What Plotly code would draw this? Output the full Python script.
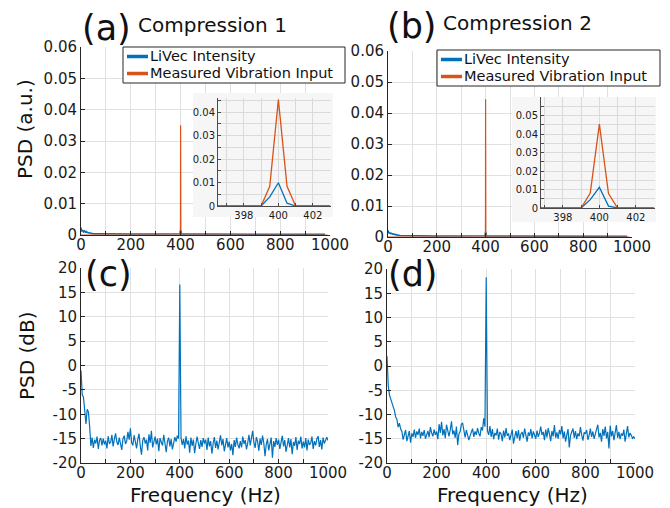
import plotly.graph_objects as go

BLUE = '#0072BD'
ORANGE = '#D95319'
AX = '#262626'
GRID = '#e0e0e0'
FONT = 'DejaVu Sans'

# ---------------- data ----------------
# (a)/(b) linear PSD, main axes
lin_freq_a = [0, 2, 4, 6, 8, 10, 14, 18, 22, 26, 30, 40, 50, 80, 120, 200, 300, 396, 398, 400, 402, 404, 500, 600, 700, 800, 900, 980]
lin_livec_a = [0.0024, 0.0011, 0.0017, 0.0012, 0.0015, 0.0010, 0.0013, 0.0009, 0.0011, 0.0008, 0.0007, 0.0005, 0.0004, 0.0004,
               0.0003, 0.0003, 0.0003, 0.0003, 0.0004, 0.0016, 0.0004, 0.0003, 0.0003, 0.0003, 0.0002, 0.0002, 0.0002, 0.0002]
lin_freq_b = [0, 2, 4, 6, 8, 10, 14, 18, 22, 26, 30, 40, 50, 80, 120, 200, 300, 396, 398, 400, 402, 404, 500, 600, 700, 800, 900, 980]
lin_livec_b = [0.0022, 0.0012, 0.0016, 0.0011, 0.0014, 0.0011, 0.0012, 0.0010, 0.0009, 0.0008, 0.0007, 0.0006, 0.0005, 0.0004,
               0.0004, 0.0003, 0.0003, 0.0003, 0.0004, 0.0017, 0.0004, 0.0003, 0.0003, 0.0003, 0.0003, 0.0002, 0.0002, 0.0002]
vib_freq = [0, 399, 399.5, 400, 400.5, 401, 990]
vib_input_a = [0, 0, 0.006, 0.035, 0.006, 0, 0]
vib_input_b = [0, 0, 0.007, 0.0444, 0.007, 0, 0]

# insets (zoom around 400 Hz)
inset_freq = [396.5, 397, 397.5, 398, 398.5, 399, 399.5, 400, 400.5, 401, 401.5, 402, 402.5, 403]
inset_livec_a = [0, 0, 0, 0, 0, 0, 0.0039, 0.0099, 0.0012, 0, 0, 0, 0, 0]
inset_vib_a = [0, 0, 0, 0, 0, 0, 0.0084, 0.0453, 0.0084, 0, 0, 0, 0, 0]
inset_livec_b = [0, 0, 0, 0, 0, 0, 0.0045, 0.0112, 0.0010, 0, 0, 0, 0, 0]
inset_vib_b = [0, 0, 0, 0, 0, 0, 0.0081, 0.0453, 0.0078, 0, 0, 0, 0, 0]

# (c)/(d) PSD in dB
freq_db = list(range(0, 1001, 5))
psd_db_c = [
    -1.0, -6.0, -6.5, -9.0, -12.0, -9.0, -9.5, -12.5, -16.5, -14.8, -16.9, -15.2, -16.0, -14.6, -17.1, -15.3, -14.9, -16.4, -15.0, -16.2,
    -15.4, -17.0, -14.5, -16.0, -15.8, -14.2, -16.6, -15.1, -13.9, -15.7, -16.3, -14.8, -15.9, -17.3, -15.0, -14.4, -16.1, -15.5, -13.6, -15.2,
    -12.9, -15.8, -16.4, -14.3, -15.6, -17.0, -15.1, -14.0, -16.5, -18.3, -15.4, -14.7, -16.0, -15.2, -17.4, -14.1, -15.9, -13.4, -16.8, -15.3,
    -14.6, -16.2, -15.0, -17.6, -14.9, -15.7, -16.4, -14.2, -16.1, -17.8, -15.5, -14.8, -16.6, -15.1, -17.2, -16.0, -14.7, -15.6, -14.4, -15.0,
    16.6, -14.9, -16.3, -15.1, -17.0, -14.5, -16.2, -15.4, -17.9, -14.8, -16.5, -15.2, -18.0, -16.1, -14.6, -15.9, -17.1, -15.3, -16.7, -14.9,
    -16.0, -15.2, -17.3, -14.8, -16.6, -15.5, -18.1, -16.0, -14.7, -16.9, -15.4, -17.2, -15.8, -14.3, -16.4, -15.1, -17.6, -16.2, -14.9, -16.8,
    -15.6, -17.4, -16.1, -18.4, -15.3, -16.7, -14.8, -16.2, -17.0, -15.5, -16.8, -14.6, -16.1, -15.3, -17.2, -15.9, -14.2, -16.4, -15.1, -13.4,
    -15.8, -16.9, -14.7, -15.6, -17.5, -15.0, -16.3, -14.4, -15.9, -18.6, -16.2, -15.1, -17.4, -16.0, -14.8, -18.9, -15.5, -16.7, -14.9, -16.3,
    -15.2, -17.1, -15.8, -14.4, -16.6, -15.3, -17.7, -16.0, -14.9, -16.8, -15.1, -18.2, -15.7, -16.5, -14.7, -17.3, -15.4, -16.1, -14.6, -17.0,
    -15.6, -16.8, -14.9, -17.4, -15.2, -16.3, -15.9, -14.6, -17.1, -15.5, -16.4, -15.0, -14.5, -16.7, -15.3, -17.2, -14.8, -16.0, -15.1, -14.7,
    -15.4,
]
psd_db_d = [
    2.0, -4.0, -6.0, -6.8, -7.5, -8.8, -9.2, -10.5, -11.0, -12.6, -11.8, -13.0, -13.5, -15.2, -14.0, -13.2, -15.5, -14.1, -13.4, -15.8,
    -13.9, -14.6, -13.1, -14.8, -13.5, -14.2, -12.9, -14.9, -13.6, -14.4, -13.2, -15.0, -14.1, -13.4, -14.7, -12.6, -13.8, -14.5, -13.1, -14.2,
    -13.5, -15.1, -12.0, -13.8, -11.5, -14.3, -13.0, -14.9, -12.1, -13.7, -14.5, -13.2, -11.4, -14.1, -13.3, -14.8, -12.5, -16.3, -14.0, -13.5,
    -12.0, -11.8, -13.6, -14.7, -13.2, -14.1, -15.3, -14.4, -13.8, -12.9, -14.6, -13.5, -14.2, -12.8, -13.9, -14.5, -12.6, -13.3, -10.8, -12.5,
    18.3, -13.4, -14.2, -12.4, -14.6, -13.0, -15.1, -13.8, -14.3, -12.9, -15.2, -13.6, -14.0, -15.5, -13.3, -14.7, -12.8, -14.4, -13.9, -15.3,
    -14.2, -13.1, -16.0, -14.5, -13.4, -14.9, -13.2, -15.4, -14.0, -13.6, -14.8, -12.9, -14.3, -15.6, -13.7, -14.4, -13.0, -14.9, -13.5, -14.1,
    -15.0, -13.3, -14.6, -13.8, -12.5, -14.2, -13.6, -15.3, -13.1, -14.7, -12.8, -14.0, -15.5, -13.4, -14.5, -12.2, -14.8, -13.7, -15.0, -13.2,
    -14.1, -12.4, -14.9, -13.5, -15.6, -14.2, -13.0, -16.8, -14.3, -13.6, -12.9, -14.8, -13.4, -15.1, -13.9, -14.5, -12.6, -14.2, -15.4, -13.7,
    -14.0, -13.2, -15.2, -14.3, -12.9, -14.6, -13.5, -15.0, -14.1, -13.3, -12.1, -14.7, -13.8, -15.6, -13.0, -14.4, -12.5, -14.9, -13.6, -17.0,
    -12.3, -14.5, -13.4, -15.3, -14.0, -12.2, -14.8, -13.6, -15.1, -13.9, -14.4, -13.1, -15.6, -14.2, -12.4, -14.7, -13.8, -14.3, -14.9, -14.6,
    -15.0,
]

# tick labels
freq_ticks = [0, 100, 200, 300, 400, 500, 600, 700, 800, 900, 1000]
freq_ticktext = ['0', '', '200', '', '400', '', '600', '', '800', '', '1000']
lin_ticks = [0, 0.01, 0.02, 0.03, 0.04, 0.05, 0.06]
lin_ticktext = ['0', '0.01', '0.02', '0.03', '0.04', '0.05', '0.06']
db_ticks = [-20, -15, -10, -5, 0, 5, 10, 15, 20]
db_ticktext = ['-20', '-15', '-10', '-5', '0', '5', '10', '15', '20']
inset_xticks = [397, 398, 399, 400, 401, 402, 403]
inset_xticktext = ['', '398', '', '400', '', '402', '']
inset_yticks = [0, 0.005, 0.01, 0.015, 0.02, 0.025, 0.03, 0.035, 0.04, 0.045, 0.05, 0.055]
inset_yticktext_a = ['0', '', '0.01', '', '0.02', '', '0.03', '', '0.04', '', '', '']
inset_yticktext_b = ['0', '', '0.01', '', '0.02', '', '0.03', '', '0.04', '', '0.05', '']

series_names = ['LiVec Intensity', 'Measured Vibration Input']
series_colors = [BLUE, ORANGE]

W, H = 670, 508


def px_x(a, b):
    return [a / W, b / W]


def px_y(top, bottom):
    return [1 - bottom / H, 1 - top / H]


fig = go.Figure()

# main (a)
fig.add_trace(go.Scatter(x=lin_freq_a, y=lin_livec_a, mode='lines', line=dict(color=BLUE, width=1.6),
                         xaxis='x', yaxis='y', name=series_names[0], showlegend=False))
fig.add_trace(go.Scatter(x=vib_freq, y=vib_input_a, mode='lines', line=dict(color=ORANGE, width=1.2),
                         xaxis='x', yaxis='y', name=series_names[1], showlegend=False))
# main (b)
fig.add_trace(go.Scatter(x=lin_freq_b, y=lin_livec_b, mode='lines', line=dict(color=BLUE, width=1.6),
                         xaxis='x2', yaxis='y2', name=series_names[0], showlegend=False))
fig.add_trace(go.Scatter(x=vib_freq, y=vib_input_b, mode='lines', line=dict(color=ORANGE, width=1.2),
                         xaxis='x2', yaxis='y2', name=series_names[1], showlegend=False))
# (c), (d)
fig.add_trace(go.Scatter(x=freq_db, y=psd_db_c, mode='lines', line=dict(color=BLUE, width=1.2),
                         xaxis='x3', yaxis='y3', name=series_names[0], showlegend=False))
fig.add_trace(go.Scatter(x=freq_db, y=psd_db_d, mode='lines', line=dict(color=BLUE, width=1.2),
                         xaxis='x4', yaxis='y4', name=series_names[0], showlegend=False))
# inset frames (background only)
fig.add_trace(go.Scatter(x=[], y=[], xaxis='x5', yaxis='y5', showlegend=False, hoverinfo='skip'))
fig.add_trace(go.Scatter(x=[], y=[], xaxis='x6', yaxis='y6', showlegend=False, hoverinfo='skip'))
# insets
fig.add_trace(go.Scatter(x=inset_freq, y=inset_livec_a, mode='lines', line=dict(color=BLUE, width=1.3),
                         xaxis='x7', yaxis='y7', name=series_names[0], showlegend=False))
fig.add_trace(go.Scatter(x=inset_freq, y=inset_vib_a, mode='lines', line=dict(color=ORANGE, width=1.3),
                         xaxis='x7', yaxis='y7', name=series_names[1], showlegend=False))
fig.add_trace(go.Scatter(x=inset_freq, y=inset_livec_b, mode='lines', line=dict(color=BLUE, width=1.3),
                         xaxis='x8', yaxis='y8', name=series_names[0], showlegend=False))
fig.add_trace(go.Scatter(x=inset_freq, y=inset_vib_b, mode='lines', line=dict(color=ORANGE, width=1.3),
                         xaxis='x8', yaxis='y8', name=series_names[1], showlegend=False))


def main_axis(domain, anchor, rng, tv, tt, standoff=0):
    d = dict(domain=domain, anchor=anchor, range=rng, tickvals=tv, ticktext=tt,
             showgrid=True, gridcolor=GRID, gridwidth=1, zeroline=False,
             showline=True, linecolor=AX, linewidth=1, mirror=False,
             ticks='inside', ticklen=4, tickwidth=1, tickcolor=AX, automargin=False,
             tickfont=dict(size=15, color='#1a1a1a', family=FONT), fixedrange=True)
    if standoff:
        d['ticklabelstandoff'] = standoff
    return d


def inset_axis(domain, anchor, rng, tv, tt):
    return dict(domain=domain, anchor=anchor, range=rng, tickvals=tv, ticktext=tt,
                showgrid=True, gridcolor='#dadada', gridwidth=1, zeroline=False,
                showline=True, linecolor='#4a4a4a', linewidth=1, automargin=False,
                ticks='inside', ticklen=3, tickwidth=1, tickcolor='#4a4a4a',
                tickfont=dict(size=10, color='#1a1a1a', family=FONT), fixedrange=True)


hidden = dict(visible=False, range=[0, 1], fixedrange=True, showgrid=False, zeroline=False)

shapes = [
    dict(type='rect', xref='x5', yref='y5', x0=0, x1=1, y0=0, y1=1, fillcolor='#f6f6f6',
         line=dict(width=0), layer='below'),
    dict(type='rect', xref='x6', yref='y6', x0=0, x1=1, y0=0, y1=1, fillcolor='#f6f6f6',
         line=dict(width=0), layer='below'),
]


def ann(text, x, y, size, xanchor='left', angle=0):
    return dict(text=text, x=x / W, y=1 - y / H, xref='paper', yref='paper', showarrow=False,
                xanchor=xanchor, yanchor='middle', textangle=angle,
                font=dict(size=size, family=FONT, color='#111111'))


annotations = [
    ann('(a)', 80, 28, 35),
    ann('Compression 1', 136, 25, 20),
    ann('(b)', 385, 26, 35),
    ann('Compression 2', 441, 23, 20),
    ann('(c)', 83, 274, 35),
    ann('(d)', 386, 274, 35),
    ann('PSD (a.u.)', 25, 129, 20, 'center', -90),
    ann('PSD (dB)', 27, 356, 20, 'center', -90),
    ann('Frequency (Hz)', 205, 495, 20, 'center'),
    ann('Frequency (Hz)', 512, 495, 20, 'center'),
]

# legend boxes (one per upper panel): box (left, top, right, bottom), first row y
LEG_FONT = 14.5
LEG_GAP = 17
legend_boxes = [(123, 47, 345, 83, 56.5), (437, 50, 660, 86, 59.5)]
for (l, t, r, b, y0) in legend_boxes:
    shapes.append(dict(type='rect', xref='paper', yref='paper', x0=l / W, x1=r / W,
                       y0=1 - b / H, y1=1 - t / H, fillcolor='white',
                       line=dict(color=AX, width=1), layer='above'))
    for k, (name, col) in enumerate(zip(series_names, series_colors)):
        yy = y0 + LEG_GAP * k
        shapes.append(dict(type='line', xref='paper', yref='paper', x0=(l + 4) / W, x1=(l + 25) / W,
                           y0=1 - yy / H, y1=1 - yy / H, line=dict(color=col, width=3.5), layer='above'))
        annotations.append(ann(name, l + 25, yy - 0.5, LEG_FONT))

fig.update_layout(
    width=W, height=H, margin=dict(l=0, r=0, t=0, b=0, autoexpand=False),
    paper_bgcolor='white', plot_bgcolor='rgba(0,0,0,0)',
    font=dict(family=FONT, color='#1a1a1a'),
    xaxis=main_axis(px_x(81, 330), 'y', [0, 1000], freq_ticks, freq_ticktext, -4),
    yaxis=main_axis(px_y(47, 235), 'x', [0, 0.06], lin_ticks, lin_ticktext),
    xaxis2=main_axis(px_x(388, 632), 'y2', [0, 1000], freq_ticks, freq_ticktext, -4),
    yaxis2=main_axis(px_y(51, 237), 'x2', [0, 0.06], lin_ticks, lin_ticktext),
    xaxis3=main_axis(px_x(81, 328), 'y3', [0, 1000], freq_ticks, freq_ticktext, -4),
    yaxis3=main_axis(px_y(268, 463), 'x3', [-20, 20], db_ticks, db_ticktext),
    xaxis4=main_axis(px_x(387, 635), 'y4', [0, 1000], freq_ticks, freq_ticktext, -4),
    yaxis4=main_axis(px_y(269, 463), 'x4', [-20, 20], db_ticks, db_ticktext),
    xaxis5=dict(hidden, domain=px_x(193, 333), anchor='y5'),
    yaxis5=dict(hidden, domain=px_y(93, 217), anchor='x5'),
    xaxis6=dict(hidden, domain=px_x(512, 656), anchor='y6'),
    yaxis6=dict(hidden, domain=px_y(97, 222), anchor='x6'),
    xaxis7=inset_axis(px_x(218, 331), 'y7', [396.5, 403.05], inset_xticks, inset_xticktext),
    yaxis7=inset_axis(px_y(98, 206), 'x7', [0, 0.046], inset_yticks, inset_yticktext_a),
    xaxis8=inset_axis(px_x(541, 655), 'y8', [396.8, 403.05], inset_xticks, inset_xticktext),
    yaxis8=inset_axis(px_y(97, 208), 'x8', [0, 0.06], inset_yticks, inset_yticktext_b),
    shapes=shapes,
    annotations=annotations,
    showlegend=False,
)

fig.write_html('out.html',
               post_script="document.body.style.margin='0px';document.body.style.padding='0px';"
                           "document.documentElement.style.overflow='hidden';")
